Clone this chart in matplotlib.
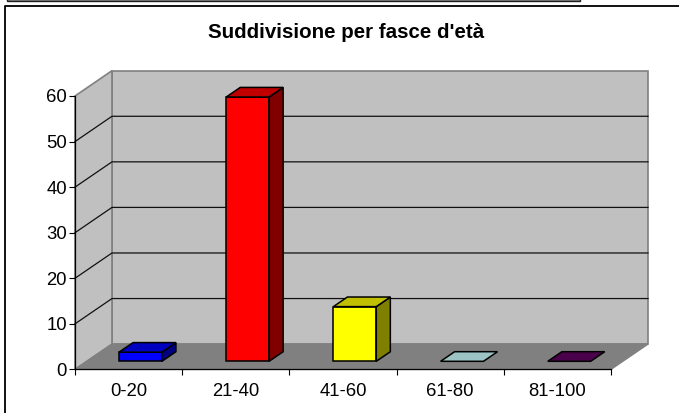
import matplotlib
matplotlib.use('Agg')
import matplotlib.pyplot as plt
from matplotlib.lines import Line2D
from matplotlib.patches import Polygon, Rectangle

plt.rcParams['font.family'] = ['Liberation Sans', 'DejaVu Sans']

categories = ['0-20', '21-40', '41-60', '61-80', '81-100']
values = [2, 58, 12, 0, 0]
y_ticks = [0, 10, 20, 30, 40, 50, 60]
title = "Suddivisione per fasce d'età"

front_colors = ['#0000ff', '#ff0000', '#ffff00', '#9cc4c4', '#4b004b']
top_colors = ['#0000c0', '#c00000', '#c0c000', '#9cc4c4', '#4b004b']
side_colors = ['#000080', '#800000', '#808000', '#9cc4c4', '#4b004b']

W, H = 679, 413

# depth of the fake 3d box, in data units
DX = 0.345
DY = 5.55
BAR_W = 0.40
BAR_START = 0.32  # how far back the bars stand
BAR_DEPTH = 0.38

fig = plt.figure(figsize=(W / 100, H / 100), dpi=100, facecolor='white')
ax = fig.add_axes([75 / W, (H - 369.4) / H, 536 / W, 273.4 / H])
ax.set_xlim(0, 5)
ax.set_ylim(0, 60)
ax.patch.set_visible(False)


def face(pts, color, edge, lw=1.1, z=2):
    ax.add_patch(Polygon(pts, closed=True, facecolor=color, edgecolor=edge,
                         linewidth=lw, clip_on=False, zorder=z, joinstyle='miter'))


# walls and floor
x_end = len(categories)
y_end = y_ticks[-1]
face([(DX, DY), (x_end + DX, DY), (x_end + DX, y_end + DY), (DX, y_end + DY)], '#c0c0c0', '#808080', 1.2, 1)
face([(0, 0), (DX, DY), (DX, y_end + DY), (0, y_end)], '#c0c0c0', '#808080', 1.2, 1)
face([(0, 0), (x_end, 0), (x_end + DX, DY), (DX, DY)], '#808080', '#808080', 1.0, 1)

# grid lines go along the side wall then the back wall
for v in y_ticks[1:-1]:
    ax.plot([0, DX, x_end + DX], [v, v + DY, v + DY], color='#101010', lw=0.9,
            clip_on=False, zorder=1.5)

# bars
for i, val in enumerate(values):
    x0 = i + 0.5 - BAR_W / 2 + BAR_START * DX
    x1 = x0 + BAR_W
    y0 = BAR_START * DY
    y1 = y0 + val
    ox = BAR_DEPTH * DX
    oy = BAR_DEPTH * DY
    if val > 0:
        face([(x0, y0), (x1, y0), (x1, y1), (x0, y1)], front_colors[i], 'black', 1.1, 3)
        face([(x1, y0), (x1 + ox, y0 + oy), (x1 + ox, y1 + oy), (x1, y1)], side_colors[i], 'black', 1.1, 3)
    face([(x0, y1), (x1, y1), (x1 + ox, y1 + oy), (x0 + ox, y1 + oy)], top_colors[i], 'black', 1.1, 3)

# axes
for name in ['top', 'right']:
    ax.spines[name].set_visible(False)
for name in ['left', 'bottom']:
    ax.spines[name].set_linewidth(0.9)
    ax.spines[name].set_color('black')
    ax.spines[name].set_zorder(4)
ax.set_yticks(y_ticks)
ax.tick_params(axis='y', length=4.3, width=0.8, pad=1.5, labelsize=13.3)
ax.set_xticks(range(len(categories) + 1))
ax.set_xticklabels([])
ax.tick_params(axis='x', which='major', length=4.3, width=0.8)
ax.set_xticks([i + 0.5 for i in range(len(categories))], labels=categories, minor=True)
ax.tick_params(axis='x', which='minor', length=0, pad=9.5, labelsize=13.3)

fig.text(346 / W, 1 - 32 / H, title, ha='center', va='center', fontsize=14.8, fontweight='bold')

# frame of the page the chart was cut out of
fig.add_artist(Line2D([4.5 / W, 4.5 / W, 1], [0, 1 - 5.5 / H, 1 - 5.5 / H], color='#101010', lw=1.4))
fig.add_artist(Rectangle((7 / W, 1 - 1 / H), 573 / W, 3 / H, facecolor='#808080', edgecolor='#202020', lw=1.0))

fig.savefig('out.png', dpi=100)
